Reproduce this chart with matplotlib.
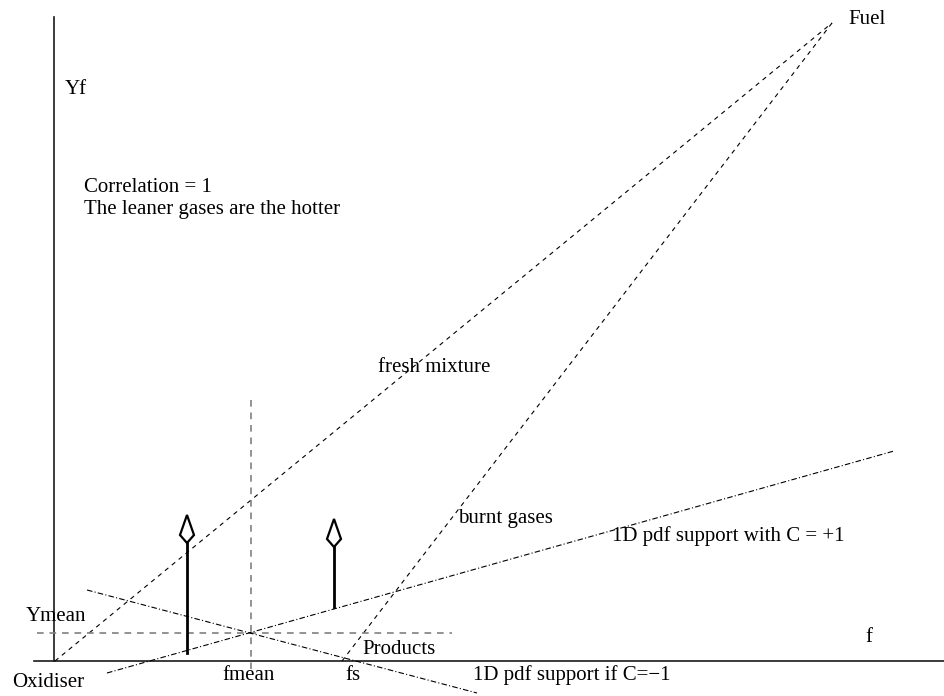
import matplotlib.pyplot as plt
from matplotlib.patches import Polygon

plt.rcParams['font.family'] = ['Liberation Serif', 'DejaVu Serif']

# diagram in pixel units (y grows downwards)
W, H = 945, 696

# axes of the (f, Yf) plane
f_axis_x = [34, 945]
f_axis_y = [661, 661]
yf_axis_x = [54, 54]
yf_axis_y = [17, 661]

# mixing / burning lines
fresh_x = [55, 832]
fresh_y = [661, 23]
burnt_x = [832, 342]
burnt_y = [23, 661]

# mean values
ymean_x = [37, 452]
ymean_y = [633, 633]
fmean_x = [251, 251]
fmean_y = [400, 669]

# 1D pdf supports
cplus_x = [107, 894]
cplus_y = [673, 451]
cminus_x = [87, 477]
cminus_y = [590, 693]

# the two delta peaks
peak_x = [187, 334]
peak_base = [653, 607]
peak_top = [543, 547]
head_len = 28
head_wide = 8
head_half = 7

labels = ['Fuel', 'Yf', 'Correlation = 1', 'The leaner gases are the hotter',
          'fresh mixture', 'burnt gases', '1D pdf support with C = +1',
          'Ymean', 'f', 'Products', 'Oxidiser', 'fmean', 'fs',
          '1D pdf support if C=\u22121']
label_x = [848, 65, 84, 84, 378, 458, 612, 26, 865, 362, 12, 222, 345, 473]
label_y = [24, 94, 192, 214, 372, 523, 541, 621, 642, 654, 687, 680, 680, 680]

fig = plt.figure(figsize=(W / 100, H / 100), dpi=100)
ax = fig.add_axes([0, 0, 1, 1])
ax.set_xlim(0, W)
ax.set_ylim(H, 0)
ax.axis('off')

ax.plot(f_axis_x, f_axis_y, color='#1a1a1a', lw=1.2)
ax.plot(yf_axis_x, yf_axis_y, color='#1a1a1a', lw=1.2)

ax.plot(fresh_x, fresh_y, color='black', lw=0.8, dashes=(4, 4))
ax.plot(burnt_x, burnt_y, color='black', lw=0.8, dashes=(4, 4))

ax.plot(ymean_x, ymean_y, color='#808080', lw=1.2, dashes=(4, 3.5))
ax.plot(fmean_x, fmean_y, color='#808080', lw=1.2, dashes=(4, 3.5))

ax.plot(cplus_x, cplus_y, color='black', lw=0.8, dashes=(5, 2, 1, 2))
ax.plot(cminus_x, cminus_y, color='black', lw=0.8, dashes=(5, 2, 1, 2))

for x, yb, yt in zip(peak_x, peak_base, peak_top):
    ax.plot([x, x], [yb, yt], color='black', lw=2)
    tip = yt - head_len
    head = Polygon([[x, tip], [x - head_half, tip + head_len - head_wide],
                    [x, yt], [x + head_half, tip + head_len - head_wide]],
                   closed=True, facecolor='white', edgecolor='black', lw=1.6)
    ax.add_patch(head)

for s, x, y in zip(labels, label_x, label_y):
    ax.text(x, y, s, fontsize=15, ha='left', va='baseline', color='black')

fig.savefig('out.png', dpi=100)
